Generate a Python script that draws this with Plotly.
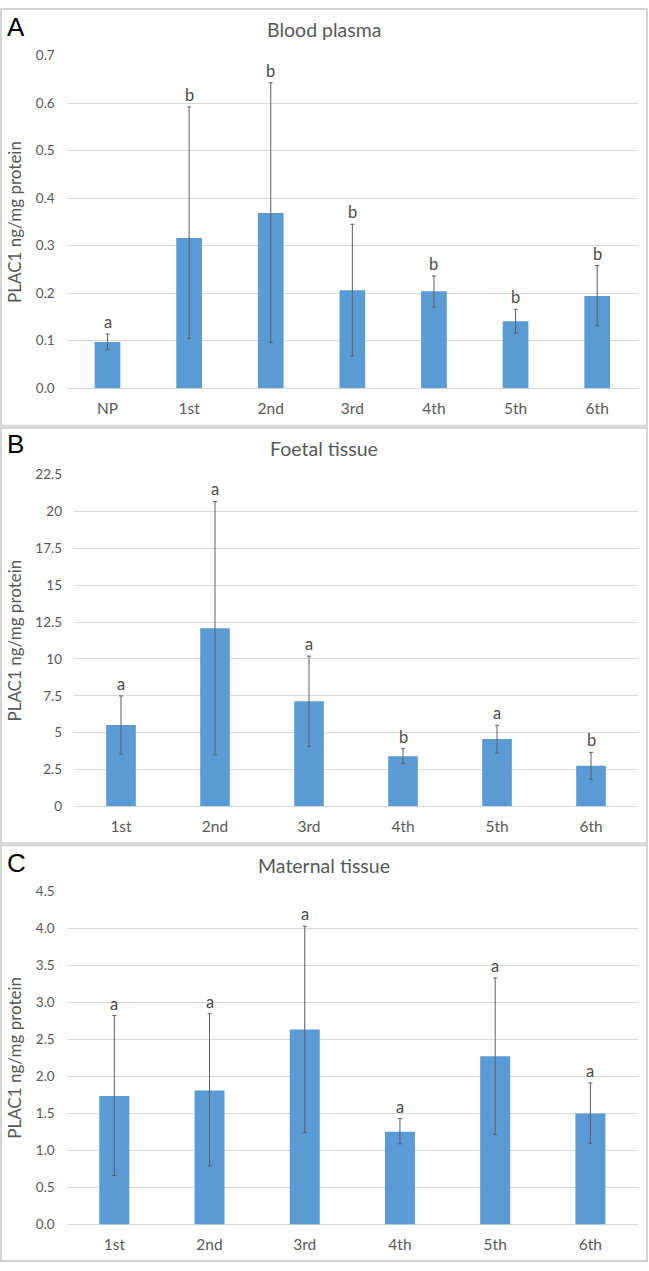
import plotly.graph_objects as go

W, H = 649, 1271

# ---------------- data ----------------
A_cats = ["NP", "1st", "2nd", "3rd", "4th", "5th", "6th"]
A_mean = [0.097, 0.316, 0.369, 0.206, 0.204, 0.141, 0.194]
A_upper = [0.114, 0.592, 0.643, 0.345, 0.236, 0.166, 0.258]
A_lower = [0.081, 0.105, 0.096, 0.068, 0.171, 0.116, 0.131]
A_letters = ["a", "b", "b", "b", "b", "b", "b"]

B_cats = ["1st", "2nd", "3rd", "4th", "5th", "6th"]
B_mean = [5.52, 12.09, 7.13, 3.40, 4.56, 2.75]
B_upper = [7.49, 20.69, 10.19, 3.91, 5.50, 3.66]
B_lower = [3.55, 3.49, 4.07, 2.90, 3.60, 1.83]
B_letters = ["a", "a", "a", "b", "a", "b"]

C_cats = ["1st", "2nd", "3rd", "4th", "5th", "6th"]
C_mean = [1.733, 1.808, 2.630, 1.253, 2.270, 1.497]
C_upper = [2.820, 2.843, 4.025, 1.430, 3.327, 1.910]
C_lower = [0.662, 0.791, 1.239, 1.088, 1.213, 1.097]
C_letters = ["a", "a", "a", "a", "a", "a"]

titles = ["Blood plasma", "Foetal tissue", "Maternal tissue"]
panel_letters = ["A", "B", "C"]
y_title = "PLAC1 ng/mg protein"

# ---------------- layout geometry (pixels) ----------------
panels = [
    dict(cats=A_cats, mean=A_mean, up=A_upper, lo=A_lower, let=A_letters,
         x0=66.7, x1=638, ytop=48.3, ybot=385, rng=[0, 0.7], dtick=0.1, fmt=".1f",
         box=(1, 1, 647, 423), title_y=22, letter_y=19),
    dict(cats=B_cats, mean=B_mean, up=B_upper, lo=B_lower, let=B_letters,
         x0=74, x1=638, ytop=472.7, ybot=808.5, rng=[0, 22.5], dtick=2.5, fmt="",
         box=(1, 425, 647, 846), title_y=446, letter_y=442),
    dict(cats=C_cats, mean=C_mean, up=C_upper, lo=C_lower, let=C_letters,
         x0=66.7, x1=638, ytop=894.3, ybot=1232, rng=[0, 4.5], dtick=0.5, fmt=".1f",
         box=(1, 848, 647, 1269), title_y=868, letter_y=866),
]

FONT = "Lato"
BAR = "#5B9BD5"
GRID = "#D9D9D9"
TXT = "#595959"

def px_x(v):
    return v / W

def px_y(v):
    return 1 - v / H

fig = go.Figure()
annotations = []
shapes = []

for i, p in enumerate(panels):
    n = i + 1
    xa = "x" if n == 1 else f"x{n}"
    ya = "y" if n == 1 else f"y{n}"
    plus = [u - m for u, m in zip(p["up"], p["mean"])]
    minus = [m - l for m, l in zip(p["mean"], p["lo"])]
    fig.add_trace(go.Bar(
        x=p["cats"], y=p["mean"], xaxis=xa, yaxis=ya,
        marker=dict(color=BAR, line=dict(width=0)),
        error_y=dict(type="data", symmetric=False, array=plus, arrayminus=minus,
                     color="#5f5f5f", thickness=1, width=2),
        showlegend=False, hoverinfo="skip",
    ))
    xkey = "xaxis" if n == 1 else f"xaxis{n}"
    ykey = "yaxis" if n == 1 else f"yaxis{n}"
    fig.update_layout(**{
        xkey: dict(domain=[px_x(p["x0"]), px_x(p["x1"])], anchor=ya,
                   showgrid=False, showline=False, zeroline=False, ticks="",
                   tickfont=dict(family=FONT, size=15.5, color=TXT),
                   ticklabelstandoff=9, fixedrange=True),
        ykey: dict(domain=[px_y(p["ybot"]), px_y(p["ytop"])], anchor=xa,
                   range=p["rng"], dtick=p["dtick"], tick0=0, tickformat=p["fmt"],
                   showgrid=True, gridcolor=GRID, gridwidth=1,
                   zeroline=True, zerolinecolor=GRID, zerolinewidth=1,
                   showline=False, ticks="",
                   tickfont=dict(family=FONT, size=13.5, color=TXT),
                   ticklabelstandoff=11, fixedrange=True),
    })
    # significance letters
    for c, u, l in zip(p["cats"], p["up"], p["let"]):
        annotations.append(dict(x=c, y=u, xref=xa, yref=ya, text=l, showarrow=False,
                                yanchor="bottom", yshift=0,
                                font=dict(family=FONT, size=16.5, color="#4a4a4a")))
    # chart title
    annotations.append(dict(x=px_x(324), y=px_y(p["title_y"]), xref="paper", yref="paper",
                            text=titles[i], showarrow=False, xanchor="center", yanchor="middle",
                            font=dict(family=FONT, size=19.5, color=TXT)))
    # panel letter
    annotations.append(dict(x=px_x(5), y=px_y(p["letter_y"]), xref="paper", yref="paper",
                            text=panel_letters[i], showarrow=False, xanchor="left", yanchor="middle",
                            font=dict(family="Liberation Sans", size=26, color="black")))
    # y-axis title
    annotations.append(dict(x=px_x(15), y=px_y((p["ytop"] + p["ybot"]) / 2),
                            xref="paper", yref="paper", text=y_title, textangle=-90,
                            showarrow=False, xanchor="center", yanchor="middle",
                            font=dict(family=FONT, size=17, color=TXT)))
    # panel frame
    bx0, by0, bx1, by1 = p["box"]
    shapes.append(dict(type="rect", xref="paper", yref="paper",
                       x0=px_x(bx0), x1=px_x(bx1), y0=px_y(by1), y1=px_y(by0),
                       line=dict(color="#D4D4D4", width=2), fillcolor="rgba(0,0,0,0)",
                       layer="below"))

fig.update_layout(
    width=W, height=H,
    margin=dict(l=0, r=0, t=0, b=0),
    paper_bgcolor="white", plot_bgcolor="white",
    bargap=0.685,
    annotations=annotations, shapes=shapes,
    font=dict(family=FONT, color=TXT),
)

fig.write_html("out.html", config={"displayModeBar": False})
